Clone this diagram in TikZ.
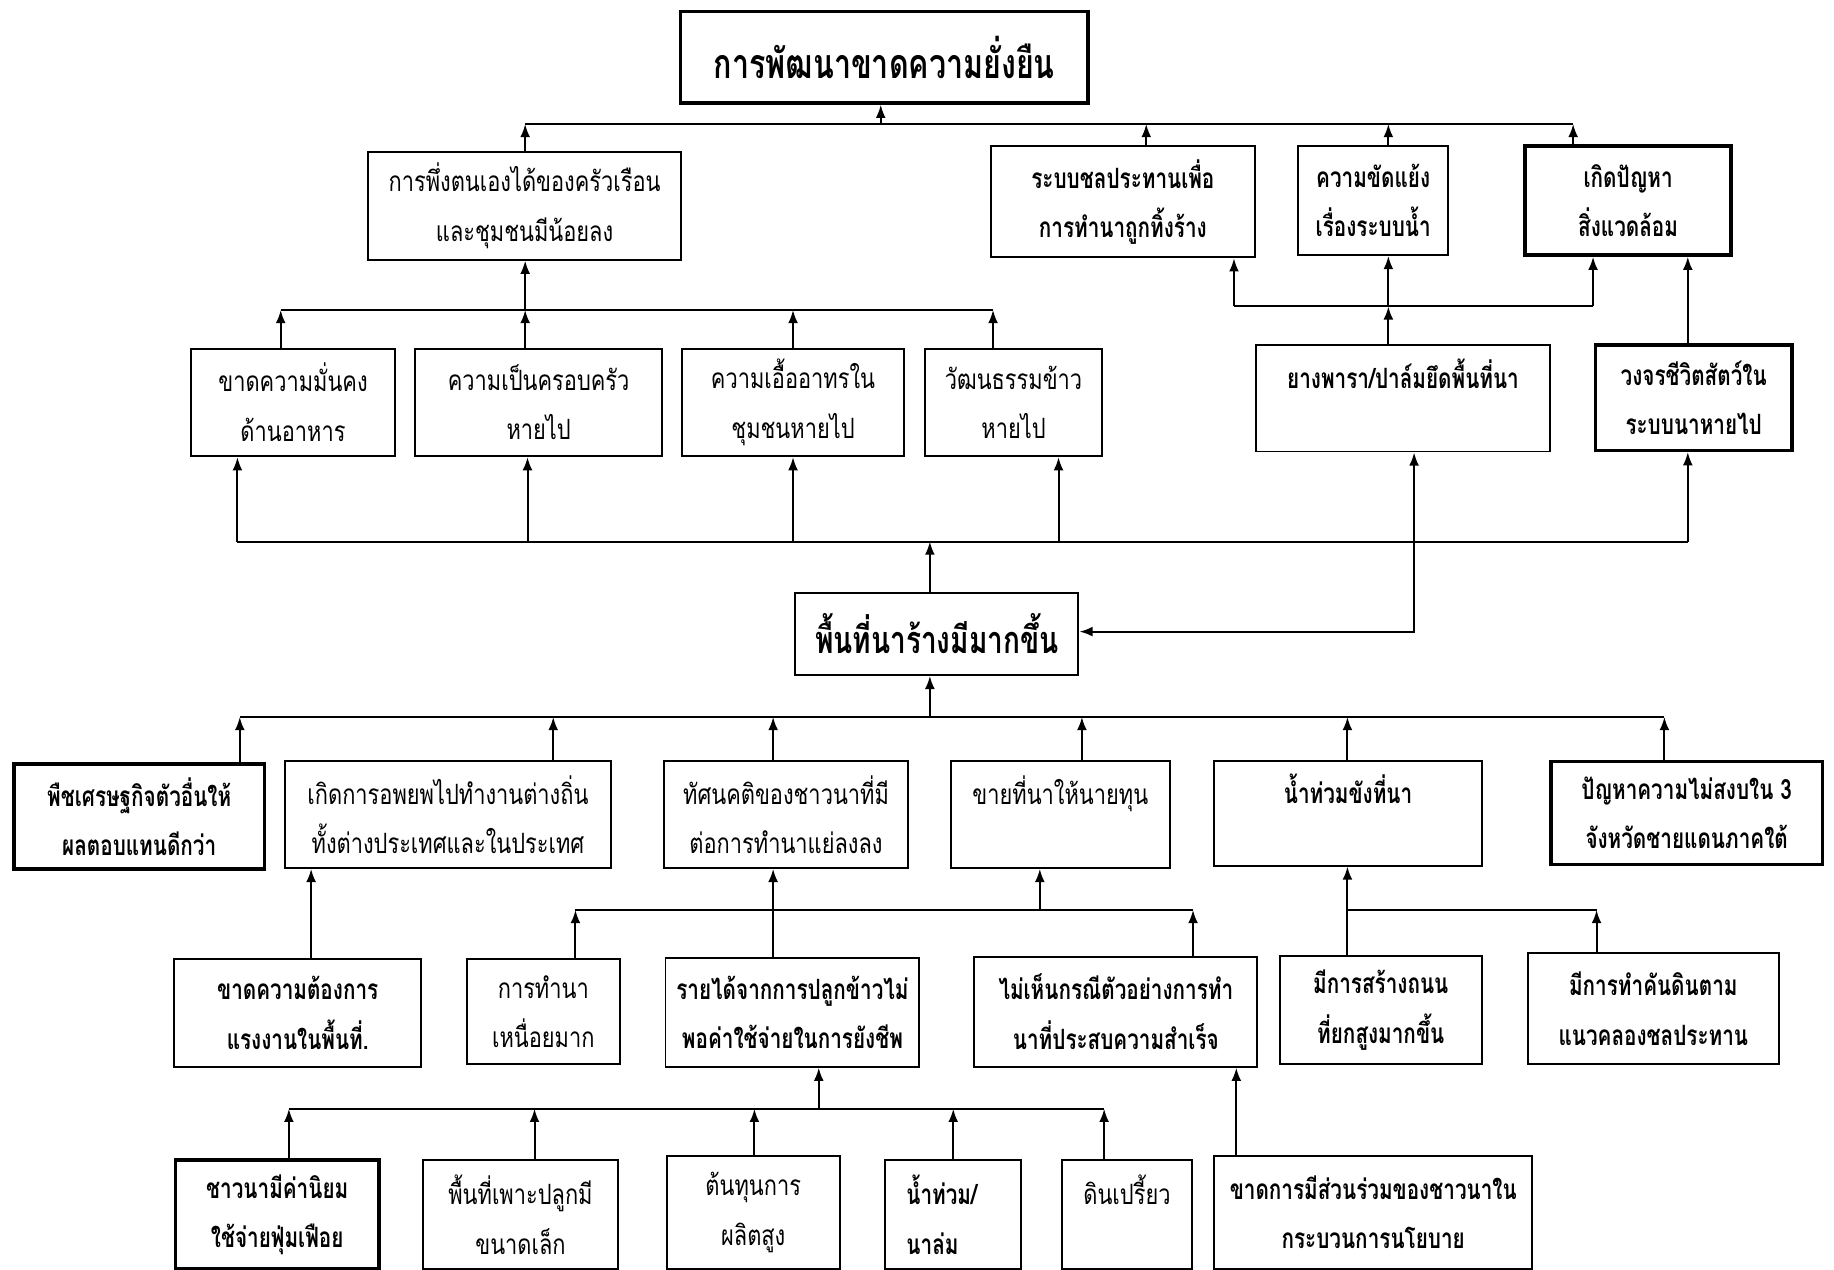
\documentclass[tikz,border=0pt]{standalone}
\usepackage{fontspec}
\usepackage{tikz}
\usetikzlibrary{calc, arrows.meta}
\newfontfamily\thaifont[Script=Thai,FakeStretch=0.78,BoldFeatures={FakeStretch=0.74}]{Loma}

\tikzset{
	box/.style = {draw, line width=1.2pt, inner sep=0pt, align=center, font=\thaifont\fontsize{17}{30}\selectfont},
	boldbox/.style = {box, font=\thaifont\bfseries\fontsize{17}{30}\selectfont},
	heavybox/.style = {boldbox, line width=2.2pt},
	wire/.style = {line width=1.2pt},
}

\begin{document}
\begin{tikzpicture}[x=0.025cm, y=-0.025cm]
			\useasboundingbox [fill=white] (0,0) rectangle (1568,1085);

			\node (goal) [heavybox, minimum width=8.7cm, minimum height=1.95cm, font=\thaifont\bfseries\fontsize{25}{30}\selectfont] at (756,49) {การพัฒนาขาดความยั่งยืน};

			\node (selfrel) [box, minimum width=6.675cm, minimum height=2.3cm] at (448.5,176) {การพึ่งตนเองได้ของครัวเรือน\\และชุมชนมีน้อยลง};
			\node (irrig) [boldbox, minimum width=5.65cm, minimum height=2.375cm] at (960,172.5) {ระบบชลประทานเพื่อ\\การทำนาถูกทิ้งร้าง};
			\node (conflict) [boldbox, minimum width=3.2cm, minimum height=2.325cm] at (1174,171.5) {ความขัดแย้ง\\เรื่องระบบน้ำ};
			\node (envir) [heavybox, minimum width=4.4cm, minimum height=2.325cm] at (1392,171.5) {เกิดปัญหา\\สิ่งแวดล้อม};

			\node (food) [box, minimum width=4.375cm, minimum height=2.3cm] at (250.5,344) {ขาดความมั่นคง\\ด้านอาหาร};
			\node (family) [box, minimum width=5.275cm, minimum height=2.3cm] at (460.5,344) {ความเป็นครอบครัว\\หายไป};
			\node (kindness) [box, minimum width=4.75cm, minimum height=2.3cm] at (678,344) {ความเอื้ออาทรใน\\ชุมชนหายไป};
			\node (culture) [box, minimum width=3.775cm, minimum height=2.3cm] at (866.5,344) {วัฒนธรรมข้าว\\หายไป};
			\node (rubber) [boldbox, minimum width=6.275cm, minimum height=2.275cm] at (1199.5,340.5) {ยางพารา/ปาล์มยึดพื้นที่นา\\\mbox{}};
			\node (wildlife) [heavybox, minimum width=4.2cm, minimum height=2.25cm] at (1448,340) {วงจรชีวิตสัตว์ใน\\ระบบนาหายไป};

			\node (idle) [boldbox, minimum width=6.05cm, minimum height=1.75cm, font=\thaifont\bfseries\fontsize{23}{30}\selectfont] at (801,542) {พื้นที่นาร้างมีมากขึ้น};

			\node (crops) [heavybox, minimum width=5.35cm, minimum height=2.25cm] at (119,698) {พืชเศรษฐกิจตัวอื่นให้\\ผลตอบแทนดีกว่า};
			\node (migrate) [box, minimum width=6.95cm, minimum height=2.275cm] at (383,696.5) {เกิดการอพยพไปทำงานต่างถิ่น\\ทั้งต่างประเทศและในประเทศ};
			\node (attitude) [box, minimum width=5.2cm, minimum height=2.275cm] at (672,696.5) {ทัศนคติของชาวนาที่มี\\ต่อการทำนาแย่ลงลง};
			\node (sell) [box, minimum width=4.675cm, minimum height=2.275cm] at (906.5,696.5) {ขายที่นาให้นายทุน\\\mbox{}};
			\node (flood) [boldbox, minimum width=5.725cm, minimum height=2.225cm] at (1152.5,695.5) {น้ำท่วมขังที่นา\\\mbox{}};
			\node (unrest) [heavybox, minimum width=5.8cm, minimum height=2.2cm] at (1442,695) {ปัญหาความไม่สงบใน 3\\จังหวัดชายแดนภาคใต้};

			\node (labour) [boldbox, minimum width=5.275cm, minimum height=2.3cm] at (254.5,866) {ขาดความต้องการ\\แรงงานในพื้นที่.};
			\node (tiring) [box, minimum width=3.275cm, minimum height=2.25cm] at (464.5,865) {การทำนา\\เหนื่อยมาก};
			\node (income) [boldbox, minimum width=5.425cm, minimum height=2.325cm] at (677.5,865.5) {รายได้จากการปลูกข้าวไม่\\พอค่าใช้จ่ายในการยังชีพ};
			\node (example) [boldbox, minimum width=6.05cm, minimum height=2.35cm] at (954,865) {ไม่เห็นกรณีตัวอย่างการทำ\\นาที่ประสบความสำเร็จ};
			\node (road) [boldbox, minimum width=4.325cm, minimum height=2.325cm] at (1180.5,863.5) {มีการสร้างถนน\\ที่ยกสูงมากขึ้น};
			\node (dike) [boldbox, minimum width=5.375cm, minimum height=2.375cm] at (1413.5,862.5) {มีการทำคันดินตาม\\แนวคลองชลประทาน};

			\node (spend) [heavybox, minimum width=4.35cm, minimum height=2.325cm] at (237,1038.5) {ชาวนามีค่านิยม\\ใช้จ่ายฟุ่มเฟือย};
			\node (smallplot) [box, minimum width=4.15cm, minimum height=2.325cm] at (445,1038.5) {พื้นที่เพาะปลูกมี\\ขนาดเล็ก};
			\node (cost) [box, minimum width=3.7cm, minimum height=2.425cm] at (644,1036.5) {ต้นทุนการ\\ผลิตสูง};
			\node (floodloss) [boldbox, align=left, text width=2cm, minimum width=2.9cm, minimum height=2.325cm] at (815,1038.5) {น้ำท่วม/\\นาล่ม};
			\node (acidsoil) [box, minimum width=2.775cm, minimum height=2.325cm] at (963.5,1038.5) {ดินเปรี้ยว\\\mbox{}};
			\node (noparti) [boldbox, minimum width=6.8cm, minimum height=2.425cm] at (1174,1036.5) {ขาดการมีส่วนร่วมของชาวนาใน\\กระบวนการนโยบาย};

			\coordinate (tA) at (449,106);
			\coordinate (tB) at (980,106);
			\coordinate (tC) at (1187,106);
			\coordinate (tD) at (1345,106);
			\coordinate (tG) at (753,106);

			\coordinate (uE) at (240,265);
			\coordinate (uF) at (449,265);
			\coordinate (uG) at (678,265);
			\coordinate (uH) at (849,265);

			\coordinate (rB) at (1055,262);
			\coordinate (rC) at (1187,262);
			\coordinate (rD) at (1362,262);

			\coordinate (mE) at (203,463);
			\coordinate (mF) at (451,463);
			\coordinate (mG) at (678,463);
			\coordinate (mH) at (905,463);
			\coordinate (mI) at (795,463);
			\coordinate (mJ) at (1443,463);
			\coordinate (iC) at (1209,540);

			\coordinate (dK) at (205,613);
			\coordinate (dL) at (473,613);
			\coordinate (dM) at (661,613);
			\coordinate (dN) at (925,613);
			\coordinate (dO) at (1152,613);
			\coordinate (dP) at (1423,613);
			\coordinate (dI) at (795,613);

			\coordinate (qL) at (266,778);
			\coordinate (fR) at (492,778);
			\coordinate (fM) at (661,778);
			\coordinate (fN) at (889,778);
			\coordinate (fT) at (1020,778);
			\coordinate (oU) at (1152,778);
			\coordinate (oV) at (1365,778);

			\coordinate (bW) at (247,948);
			\coordinate (bX) at (457,948);
			\coordinate (bY) at (645,948);
			\coordinate (bZ) at (815,948);
			\coordinate (bA) at (944,948);
			\coordinate (bS) at (700,948);
			\coordinate (aT) at (1057,948);

			\begin{scope}[wire]
				\draw (tA) -- (tD);
				\draw (uE) -- (uH);
				\draw (rB) -- (rD);
				\draw (mE) -- (mJ);
				\draw (dK) -- (dP);
				\draw (fR) -- (fT);
				\draw (oU) -- (oV);
				\draw (bW) -- (bA);
			\end{scope}

			\begin{scope}[wire, -{Latex[length=8pt, width=6pt]}]
				\draw (tG) -- (goal.south -| tG);
				\draw (selfrel.north -| tA) -- (tA);
				\draw (irrig.north -| tB) -- (tB);
				\draw (conflict.north -| tC) -- (tC);
				\draw (envir.north -| tD) -- (tD);

				\draw (uF) -- (selfrel.south -| uF);
				\draw (food.north -| uE) -- (uE);
				\draw (family.north -| uF) -- (uF);
				\draw (kindness.north -| uG) -- (uG);
				\draw (culture.north -| uH) -- (uH);

				\draw (rB) -- (irrig.south -| rB);
				\draw (rC) -- (conflict.south -| rC);
				\draw (rD) -- (envir.south -| rD);
				\draw (rubber.north -| rC) -- (rC);
				\draw (wildlife.north -| mJ) -- (envir.south -| mJ);

				\draw (idle.north -| mI) -- (mI);
				\draw (mE) -- (food.south -| mE);
				\draw (mF) -- (family.south -| mF);
				\draw (mG) -- (kindness.south -| mG);
				\draw (mH) -- (culture.south -| mH);
				\draw (mJ) -- (wildlife.south -| mJ);
				\draw [{Latex[length=8pt, width=6pt]}-{Latex[length=8pt, width=6pt]}] (rubber.south -| iC) -- (iC) -- (idle.east |- iC);

				\draw (dI) -- (idle.south -| dI);
				\draw (crops.north -| dK) -- (dK);
				\draw (migrate.north -| dL) -- (dL);
				\draw (attitude.north -| dM) -- (dM);
				\draw (sell.north -| dN) -- (dN);
				\draw (flood.north -| dO) -- (dO);
				\draw (unrest.north -| dP) -- (dP);

				\draw (labour.north -| qL) -- (migrate.south -| qL);
				\draw (income.north -| fM) -- (attitude.south -| fM);
				\draw (fN) -- (sell.south -| fN);
				\draw (tiring.north -| fR) -- (fR);
				\draw (example.north -| fT) -- (fT);
				\draw (road.north -| oU) -- (flood.south -| oU);
				\draw (dike.north -| oV) -- (oV);

				\draw (bS) -- (income.south -| bS);
				\draw (spend.north -| bW) -- (bW);
				\draw (smallplot.north -| bX) -- (bX);
				\draw (cost.north -| bY) -- (bY);
				\draw (floodloss.north -| bZ) -- (bZ);
				\draw (acidsoil.north -| bA) -- (bA);
				\draw (noparti.north -| aT) -- (example.south -| aT);
			\end{scope}
		\end{tikzpicture}
\end{document}
